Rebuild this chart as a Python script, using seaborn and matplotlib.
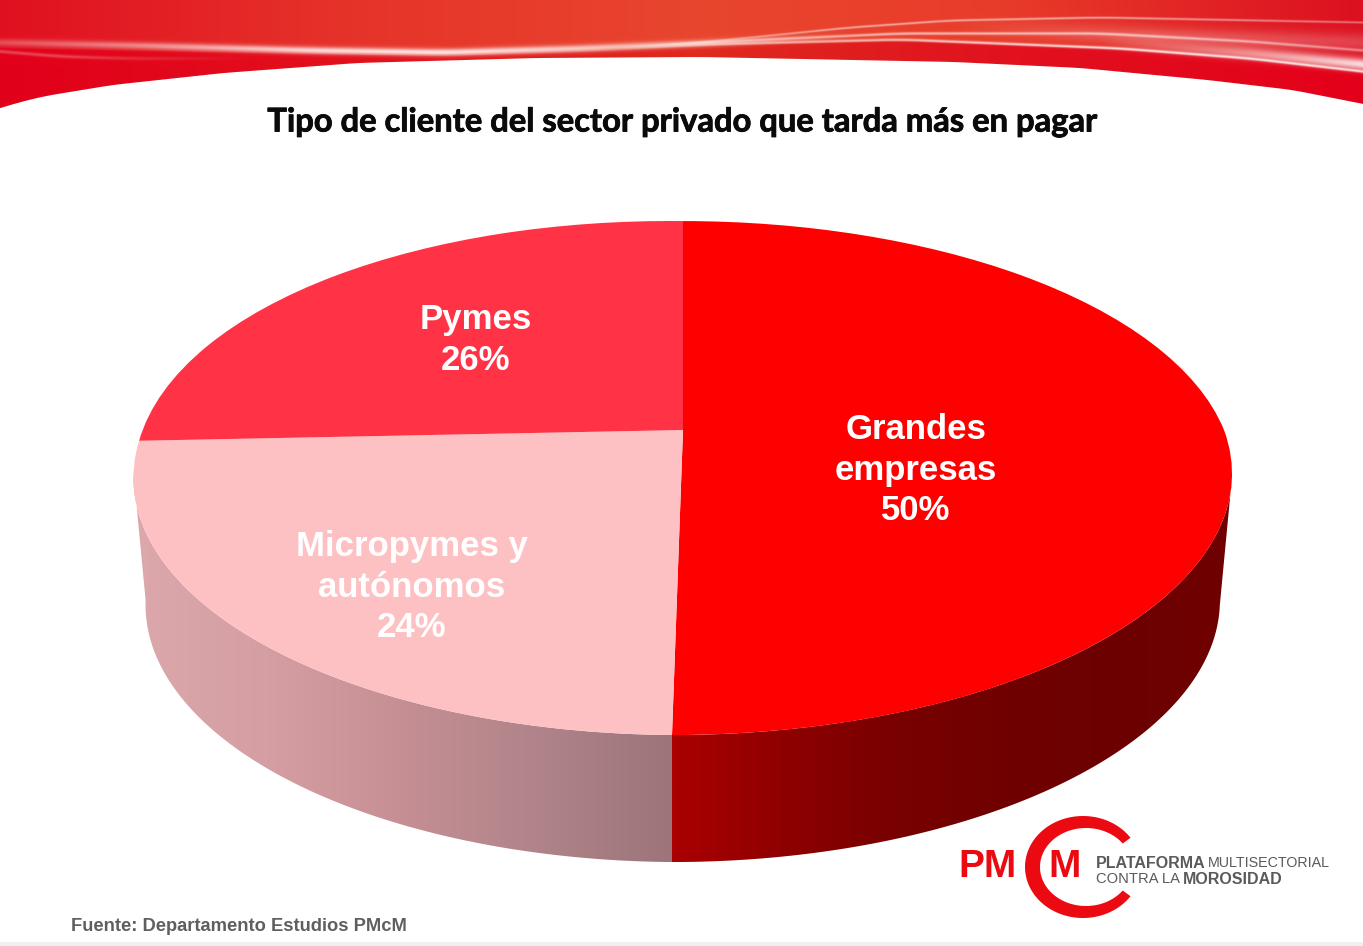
import numpy as np
import seaborn as sns
import matplotlib
matplotlib.use("Agg")
import matplotlib.pyplot as plt
import matplotlib.colors as mcolors
import matplotlib.patheffects as pe
import matplotlib.transforms as mtransforms
from matplotlib.patches import Polygon, Rectangle

# data
categories = ["Grandes\nempresas", "Micropymes y\nautónomos", "Pymes"]
values = [50, 24, 26]
slice_colors = ["#FF0000", "#FEC1C3", "#FF3345"]
label_pos = [(916, 470), (412, 587), (476, 340)]

title = "Tipo de cliente del sector privado que tarda más en pagar"
source = "Fuente: Departamento Estudios PMcM"

W, H = 1363, 946

sns.set_theme(style="white")
plt.rcParams["font.family"] = ["Liberation Sans", "DejaVu Sans"]


class Perspective(mtransforms.Transform):
    # unit circle of the pie -> tilted disc in pixel coords
    input_dims = 2
    output_dims = 2

    def __init__(self, cy, scale=1.0):
        super().__init__()
        self.cy = cy
        self.scale = scale

    def transform_non_affine(self, xy):
        xy = np.asarray(xy, dtype=float)
        u, v = xy[:, 0], xy[:, 1]
        w = 1 + 0.187 * v
        x = 683 + 1.5 * u ** 2 + 539.5 * self.scale * u / w + 11 * np.minimum(v / w, 0) / 1.23
        y = self.cy - 248 * v / w - 5 * np.maximum(-u, 0)
        return np.column_stack([x, y])


top_rim = Perspective(430)
bottom_rim = Perspective(557, 0.978)


def rim_points(t1, t2):
    # t in degrees, clockwise from 12 o'clock
    t = np.radians(np.linspace(t1, t2, 120))
    return np.column_stack([np.sin(t), np.cos(t)])


def smooth_curve(xs, ys, win=41):
    xx = np.arange(W)
    yy = np.interp(xx, xs, ys)
    pad = np.pad(yy, win, mode="reflect", reflect_type="odd")
    return np.convolve(pad, np.ones(win) / win, mode="same")[win:-win]


def build_header():
    # banner at the top, drawn as an image
    h = 112
    xx = np.arange(W)
    yy = np.arange(h)[:, None]
    anchors = [0, 350, 700, 1000, 1363]
    upper = np.array([mcolors.to_rgb(c) for c in ["#E01020", "#E6332A", "#E8462E", "#E83C2A", "#DC1020"]])
    lower = np.array([mcolors.to_rgb(c) for c in ["#E2001A", "#E2101C", "#DF2A1E", "#E1121E", "#E4001A"]])
    up = np.column_stack([np.interp(xx, anchors, upper[:, i]) for i in range(3)])
    lo = np.column_stack([np.interp(xx, anchors, lower[:, i]) for i in range(3)])

    split = smooth_curve([0, 312, 446, 580, 700, 900, 1120, 1250, 1363], [47, 53, 55, 51, 45, 40, 48, 58, 72])
    mix = np.clip(yy - split, 0, 1)[:, :, None]
    img = up[None, :, :] * (1 - mix) + lo[None, :, :] * mix

    # white streaks: x, y, half width, alpha at the same x
    streaks = [
        ([0, 134, 312, 446, 580, 700, 850], [42, 45, 50, 52, 48, 43, 36], 3.6, [0.25, 0.45, 0.8, 0.85, 0.7, 0.55, 0.0]),
        ([0, 60, 130, 250], [51, 56, 58, 58], 1.8, [0.25, 0.25, 0.15, 0.0]),
        ([620, 700, 850, 950, 1100, 1363], [47, 42, 27, 20, 17, 22], 1.2, [0.0, 0.3, 0.5, 0.5, 0.5, 0.35]),
        ([620, 700, 900, 1100, 1250, 1363], [47, 42, 33, 33, 41, 50], 1.5, [0.0, 0.35, 0.6, 0.6, 0.5, 0.4]),
        ([620, 700, 900, 1120, 1250, 1363], [48, 44, 39, 48, 58, 71], 1.5, [0.0, 0.4, 0.6, 0.8, 0.8, 0.8]),
        ([1100, 1250, 1363], [42, 53, 64], 6.0, [0.0, 0.5, 0.85]),
        ([950, 1150, 1363], [27, 36, 42], 9.0, [0.0, 0.25, 0.2]),
    ]
    for xs, ys, width, alpha in streaks:
        yc = smooth_curve(xs, ys)
        a = np.interp(xx, xs, alpha, left=0, right=alpha[-1])
        strength = (a * np.exp(-((yy - yc) / width) ** 2))[:, :, None]
        img = img * (1 - strength) + strength

    edge = smooth_curve([0, 20, 45, 112, 223, 357, 536, 700, 954, 1080, 1207, 1292, 1363],
                        [108, 102, 96, 85, 73, 63, 58, 57, 62, 68, 80, 90, 104], win=25)
    alpha = np.clip(edge - yy, 0, 1)[:, :, None]
    return np.concatenate([img, alpha], axis=2), h


def logo_arc(cx, rx, ry, start):
    t = np.radians(np.linspace(start, 360 - start, 100))
    return np.column_stack([cx + rx * np.cos(t), 867 + ry * np.sin(t)])


fig = plt.figure(figsize=(W / 100, H / 100), dpi=100, facecolor="white")
ax = fig.add_axes([0, 0, 1, 1])

# side wall of the disc, one piece per visible slice
wall_maps = [
    sns.blend_palette(["#AA0000", "#8E0000", "#780000", "#700000", "#6C0000", "#700000"], as_cmap=True),
    sns.blend_palette(["#DCA8AC", "#D49EA2", "#C58F94", "#B0848A", "#9C7479"], as_cmap=True),
]
edges = np.concatenate([[0], np.cumsum(values)]) * 3.6
front_from, front_to = 100.8, 259.2
for i, cmap in enumerate(wall_maps):
    t1, t2 = max(edges[i], front_from), min(edges[i + 1], front_to)
    pts = rim_points(t1, t2)
    outline = np.vstack([top_rim.transform(pts), bottom_rim.transform(pts)[::-1]])
    x0, x1 = outline[:, 0].min(), outline[:, 0].max()
    grad = np.linspace(0, 1, 256)[None, :]
    extent = (x0, x1, outline[:, 1].max(), outline[:, 1].min())
    im = ax.imshow(grad, cmap=cmap, aspect="auto", extent=extent, zorder=1)
    clip = Polygon(outline, closed=True, transform=ax.transData, facecolor="none", edgecolor="none")
    ax.add_patch(clip)
    im.set_clip_path(clip)

# top face
wedges, _ = ax.pie(values, colors=slice_colors, startangle=90, counterclock=False,
                   wedgeprops={"linewidth": 0})
for w in wedges:
    w.set_transform(top_rim + ax.transData)
    w.set_zorder(2)

for name, val, (px, py) in zip(categories, values, label_pos):
    ax.text(px, py, f"{name}\n{val}%", color="white", fontsize=25, fontweight="bold",
            ha="center", va="center", linespacing=1.28, zorder=3)

ax.text(682, 122, title, family=["Lato", "DejaVu Sans"], fontsize=23.55, fontweight="bold",
        color="#0A0A0A", ha="center", va="center", zorder=3,
        path_effects=[pe.withStroke(linewidth=0.6, foreground="#0A0A0A")])

# banner
header, header_h = build_header()
ax.imshow(header, extent=(0, W, header_h, 0), aspect="auto", zorder=2, interpolation="bilinear")

# source line and bottom strip
ax.text(71, 926, source, fontsize=13.2, fontweight="bold", color="#5F5F5F", va="center", zorder=3)
ax.add_patch(Rectangle((0, 942), W, 4, facecolor="#F0F0F0", edgecolor="none", zorder=1))

# logo
logo_red = "#EC0A12"
logo_grey = "#5A5A5A"
ring = np.vstack([logo_arc(1083, 58, 51, 35), logo_arc(1086, 46, 39, 37)[::-1]])
ax.add_patch(Polygon(ring, closed=True, facecolor=logo_red, edgecolor="none", zorder=3))
ax.text(958, 867, "PM", fontsize=28, fontweight="bold", color=logo_red, va="center", zorder=3)
ax.text(1048, 867, "M", fontsize=28, fontweight="bold", color=logo_red, va="center", zorder=3)
ax.text(1096, 863, "PLATAFORMA", fontsize=11.5, fontweight="bold", color=logo_grey, va="center", zorder=3)
ax.text(1208, 863, "MULTISECTORIAL", fontsize=10.3, color=logo_grey, va="center", zorder=3)
ax.text(1096, 879, "CONTRA LA", fontsize=10.6, color=logo_grey, va="center", zorder=3)
ax.text(1183, 879, "MOROSIDAD", fontsize=11.5, fontweight="bold", color=logo_grey, va="center", zorder=3)

ax.set_aspect("auto")
ax.set_xlim(0, W)
ax.set_ylim(H, 0)
ax.set_axis_off()

fig.savefig("out.png", dpi=100, facecolor="white")
